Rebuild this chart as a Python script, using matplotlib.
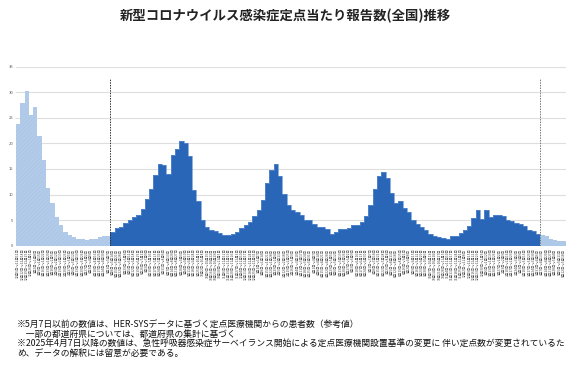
import numpy as np
import pandas as pd
import matplotlib
matplotlib.use("Agg")
import matplotlib.pyplot as plt

plt.rcParams['font.family'] = ['Noto Sans CJK JP', 'DejaVu Sans']
plt.rcParams['hatch.linewidth'] = 0.4

# HER-SYS based values (before 2023-05-08)
before_vals = [23.7, 28.0, 30.2, 25.5, 27.1, 21.4, 16.8, 11.3, 8.3, 5.7, 4.0,
               2.7, 2.1, 1.7, 1.3, 1.3, 1.1, 1.3, 1.4, 1.7, 1.8, 1.8]
# sentinel surveillance values (2023-05-08 .. 2025-04-06)
main_vals = [2.6, 3.5, 3.6, 4.5, 5.0, 5.6, 6.1, 7.2, 9.1, 11.0, 13.8, 15.9,
             15.7, 14.0, 17.7, 19.0,
             20.5, 20.1, 17.5, 10.9, 8.7, 5.1, 3.7, 3.1, 2.8, 2.4, 2.0, 2.0,
             2.3, 2.7, 3.5, 4.1, 4.6, 5.9, 6.9, 8.9, 12.2, 14.9, 16.0, 13.6,
             10.1, 7.9, 6.9, 6.5, 6.1, 5.1, 5.0, 4.3, 3.7, 3.6, 3.2, 2.3,
             2.7, 3.3, 3.3, 3.5, 4.0, 4.1, 4.6, 5.8,
             8.0, 11.1, 13.6, 14.5, 13.2, 10.4, 8.4, 8.7, 7.3, 6.5, 5.1, 4.3,
             3.6, 3.1, 2.3, 1.8, 1.7, 1.6, 1.4, 1.9, 1.8, 2.4, 3.1, 3.9,
             5.4, 6.9, 5.3, 7.0, 5.7, 6.0, 6.0, 5.8, 5.1, 4.9, 4.5, 4.2,
             3.9, 3.1, 2.8, 2.2]
# values after the change of sentinel sites (from 2025-04-07)
after_vals = [2.1, 1.8, 1.3, 1.1, 0.9, 0.9]

start_week = "2022-12-05"
yticks = [0, 5, 10, 15, 20, 25, 30, 35]

title = "新型コロナウイルス感染症定点当たり報告数(全国)推移"
notes = [
    "※5月7日以前の数値は、HER-SYSデータに基づく定点医療機関からの患者数（参考値）",
    "　一部の都道府県については、都道府県の集計に基づく",
    "※2025年4月7日以降の数値は、急性呼吸器感染症サーベイランス開始による定点医療機関設置基準の変更に 伴い定点数が変更されているた",
    "め、データの解釈には留意が必要である。",
]

n_before, n_main, n_after = len(before_vals), len(main_vals), len(after_vals)
n = n_before + n_main + n_after
weeks = pd.date_range(start_week, periods=n, freq="7D")
labels = []
for s in weeks:
    e = s + pd.Timedelta(days=6)
    labels.append(f"{s.month}月{s.day}日～{e.month}月{e.day}日")

fig = plt.figure(figsize=(5.7, 3.72), dpi=100)
ax = fig.add_axes([0.028, 0.3395, 0.965, 0.4812])

light = "#aec8e8"
dark = "#2a66b8"
x0 = np.arange(n_before)
x1 = np.arange(n_before, n_before + n_main)
x2 = np.arange(n_before + n_main, n)

ax.bar(x0, before_vals, width=1.0, color=light, edgecolor="#bdd2ec",
       linewidth=0, hatch="////////", zorder=2)
ax.bar(x1, main_vals, width=1.0, color=dark, linewidth=0, zorder=2)
ax.step(np.r_[x1 - 0.5, x1[-1] + 0.5], np.r_[main_vals, main_vals[-1]],
        where="post", color="#5d8fd2", lw=0.5, zorder=2.5)
ax.bar(x2, after_vals, width=1.0, color=light, linewidth=0, zorder=2)

ax.plot([n_before - 0.5] * 2, [0, 32.6], color="#333333", lw=0.7,
        ls=(0, (1.5, 1.2)), zorder=3)
ax.plot([n_before + n_main - 0.5] * 2, [0, 32.6], color="#777777", lw=0.7,
        ls=(0, (1.5, 1.2)), zorder=3)

ax.set_xlim(-0.5, n - 0.5)
ax.set_ylim(0, 35)
ax.set_yticks(yticks)
ax.set_yticklabels([str(v) for v in yticks], fontsize=3, color="#555555")
ax.yaxis.grid(True, color="#dedede", lw=0.8)
ax.set_axisbelow(True)
ax.set_xticks(np.arange(n))
ax.set_xticklabels(labels, rotation=90, fontsize=2.4, color="#444444")
ax.tick_params(length=0, pad=2)
for sp in ax.spines.values():
    sp.set_visible(False)

fig.text(0.5, 0.958, title, ha="center", va="center", fontsize=9.6,
         fontweight="bold", color="#222222")
for i, t in enumerate(notes):
    fig.text(0.03, 1 - (325 + i * 9.6) / 372, t, ha="left", va="center",
             fontsize=6.3, color="#111111")

fig.savefig("out.png", dpi=100)
